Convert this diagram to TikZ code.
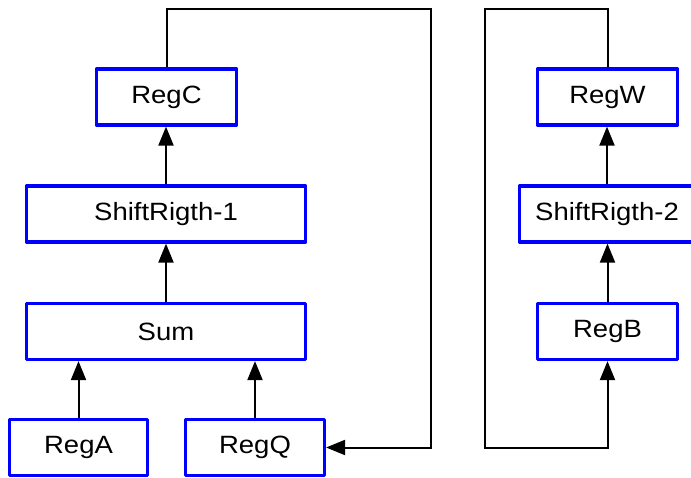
\documentclass[tikz,border=0pt]{standalone}
\usepackage{fontspec}
\newfontfamily\boxfont{Liberation Sans}[FakeStretch=1.1]
\usetikzlibrary{arrows.meta}
\tikzset{
  regbox/.style={draw=blue, line width=3.2pt, line join=round, fill=white,
    minimum height=56pt, inner sep=0pt,
    font=\boxfont\fontsize{25}{30}\selectfont},
  wire/.style={draw=black, line width=2pt},
  flow/.style={wire, -{Triangle[length=19pt,width=15pt]}}
}
\begin{document}
\begin{tikzpicture}[x=1pt, y=-1pt]
  \useasboundingbox (0,0) rectangle (691,478);

  % left datapath
  \node[regbox, minimum width=140pt] (regc)   at (166.5,97)   {RegC};
  \node[regbox, minimum width=279pt] (shift1) at (166,214)    {ShiftRigth-1};
  \node[regbox, minimum width=279pt] (sum)    at (166,331.5)  {Sum};
  \node[regbox, minimum width=138pt] (rega)   at (78.5,447.5) {RegA};
  \node[regbox, minimum width=139pt] (regq)   at (255,447.5)  {RegQ};

  % right datapath
  \node[regbox, minimum width=140pt] (regw)   at (607.5,97)   {RegW};
  \node[regbox, minimum width=175pt] (shift2) at (607,214)    {ShiftRigth-2};
  \node[regbox, minimum width=140pt] (regb)   at (607.5,331.5){RegB};

  % routing points of the feedback loops
  \coordinate (ctop)  at (431,9);
  \coordinate (wtop)  at (485,9);
  \coordinate (wbot)  at (485,448);

  \draw[flow] (rega.north) -- (rega.north |- sum.south);
  \draw[flow] (regq.north) -- (regq.north |- sum.south);
  \draw[flow] (sum.north) -- (sum.north |- shift1.south);
  \draw[flow] (shift1.north) -- (shift1.north |- regc.south);

  \draw[flow] (regb.north) -- (regb.north |- shift2.south);
  \draw[flow] (shift2.north) -- (shift2.north |- regw.south);

  \draw[flow, line join=miter] (regc.north) |- (ctop) |- (regq.east);
  \draw[flow, line join=miter] (regw.north) |- (wtop) -- (wbot) -| (regb.south);
\end{tikzpicture}
\end{document}
